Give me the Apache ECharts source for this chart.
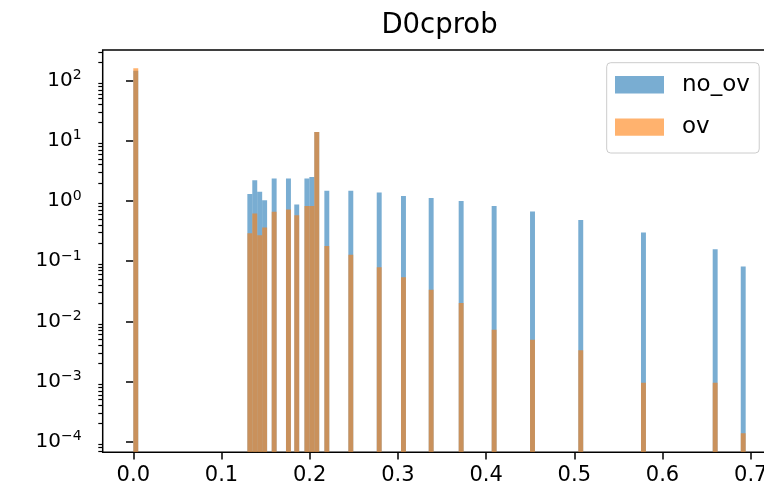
<!DOCTYPE html>
<html>
<head>
<meta charset="utf-8">
<script src="https://cdn.jsdelivr.net/npm/echarts@6/dist/echarts.min.js"></script>
<style>
  html, body { margin: 0; padding: 0; background: #ffffff; }
  #chart { width: 764px; height: 492px; }
</style>
</head>
<body>
<div id="chart"></div>
<script>
// ---- data (histogram bins, density, log scale) ----
const binStart = [0.0, 0.1293, 0.1349, 0.1405, 0.1461, 0.1569, 0.1731, 0.1825, 0.1940, 0.1996, 0.2052,
                  0.2166, 0.2438, 0.2760, 0.3035, 0.3349, 0.3689, 0.4063, 0.4498, 0.5045, 0.5756, 0.6569, 0.6887];
const noOv = [145, 1.30, 2.2, 1.42, 1.03, 2.35, 2.35, 0.875, 2.35, 2.5, 14,
              1.47, 1.47, 1.38, 1.21, 1.12, 1.0, 0.82, 0.67, 0.48, 0.30, 0.157, 0.081];
const ov   = [160, 0.29, 0.62, 0.27, 0.36, 0.66, 0.72, 0.58, 0.82, 0.82, 14,
              0.179, 0.127, 0.079, 0.054, 0.0334, 0.0201, 0.00726, 0.00495, 0.0033, 0.00095, 0.00095, 0.000138];
const BIN_W = 0.0056;
const seriesNames = ['no_ov', 'ov'];
const xTicks = [0.0, 0.1, 0.2, 0.3, 0.4, 0.5, 0.6, 0.7];
const yMajorTicks = [1e-4, 1e-3, 1e-2, 1e-1, 1e0, 1e1, 1e2];
const X_MIN = -0.0347, X_MAX = 0.729;
const Y_MIN = Math.pow(10, -4.176), Y_MAX = Math.pow(10, 2.507);

// minor ticks at 2..9 x 10^n (axis decoration)
const yMinorTicks = [];
for (let e = -5; e <= 2; e++) {
  for (let m = 2; m <= 9; m++) {
    const v = m * Math.pow(10, e);
    if (v > Y_MIN && v < Y_MAX) yMinorTicks.push(v);
  }
}

const BLUE = 'rgba(31,119,180,0.6)';
const ORANGE = 'rgba(255,127,14,0.6)';
const FONT = 'DejaVu Sans';

function histSeries(name, values, color) {
  return {
    type: 'custom',
    name: name,
    xAxisIndex: 0,
    yAxisIndex: 0,
    itemStyle: { color: color },
    silent: true,
    clip: true,
    data: binStart.map((x, i) => [x, values[i]]),
    renderItem: function (params, api) {
      const x0 = api.value(0), v = api.value(1);
      const pTop = api.coord([x0, v]);
      const pRight = api.coord([x0 + BIN_W, v]);
      const bottom = params.coordSys.y + params.coordSys.height;
      return {
        type: 'rect',
        shape: { x: pTop[0], y: pTop[1], width: pRight[0] - pTop[0], height: bottom - pTop[1] },
        style: { fill: color }
      };
    }
  };
}

function supLabel(v) {
  const e = Math.round(Math.log10(v));
  const s = e < 0 ? '\u2212' + (-e) : String(e);
  return '{b|10}{s|' + s + '}';
}

const chart = echarts.init(document.getElementById('chart'), null, { renderer: 'canvas' });
chart.setOption({
  animation: false,
  backgroundColor: '#ffffff',
  title: {
    text: 'D0cprob',
    left: 439.5,
    top: 11.5,
    padding: 0,
    textAlign: 'center',
    textStyle: { fontFamily: FONT, fontSize: 27.5, fontWeight: 'normal', color: '#000', lineHeight: 28 }
  },
  legend: {
    orient: 'vertical',
    left: 606.7,
    top: 62.7,
    padding: [10.6, 9.4, 14.4, 8.3],
    backgroundColor: 'rgba(255,255,255,0.8)',
    borderColor: '#cccccc',
    borderWidth: 1,
    borderRadius: 4,
    itemWidth: 49,
    itemHeight: 17.4,
    itemGap: 19.3,
    selectedMode: false,
    data: [
      { name: 'no_ov', icon: 'rect', itemStyle: { color: BLUE } },
      { name: 'ov', icon: 'rect', itemStyle: { color: ORANGE } }
    ],
    textStyle: { fontFamily: FONT, fontSize: 23, color: '#000', lineHeight: 17, padding: [0, 0, 0, 13] }
  },
  grid: {
    left: 102.7,
    top: 50,
    width: 673.6,
    height: 402.3,
    outerBoundsMode: 'none',
    show: true,
    borderColor: '#000',
    borderWidth: 1.5,
    backgroundColor: 'transparent',
    containLabel: false
  },
  xAxis: {
    type: 'value',
    min: X_MIN,
    max: X_MAX,
    splitLine: { show: false },
    axisLine: { show: false },
    axisTick: { show: true, customValues: xTicks, length: 7.3, lineStyle: { color: '#000', width: 1.5 } },
    axisLabel: {
      customValues: xTicks,
      formatter: v => v.toFixed(1),
      fontFamily: FONT, fontSize: 21, color: '#000', margin: 13
    }
  },
  yAxis: [
    {
      type: 'log',
      logBase: 10,
      min: Y_MIN,
      max: Y_MAX,
      splitLine: { show: false },
      axisLine: { show: false },
      axisTick: { show: true, customValues: yMajorTicks, length: 7.3, lineStyle: { color: '#000', width: 1.5 } },
      axisLabel: {
        customValues: yMajorTicks,
        formatter: supLabel,
        margin: 21,
        rich: {
          b: { fontFamily: FONT, fontSize: 20, color: '#000', lineHeight: 24 },
          s: { fontFamily: FONT, fontSize: 14, color: '#000', lineHeight: 14, verticalAlign: 'top' }
        }
      }
    },
    {
      type: 'log',
      logBase: 10,
      min: Y_MIN,
      max: Y_MAX,
      position: 'left',
      splitLine: { show: false },
      axisLine: { show: false },
      axisTick: { show: true, customValues: yMinorTicks, length: 4.4, lineStyle: { color: '#000', width: 1.2 } },
      axisLabel: { show: false }
    }
  ],
  series: [
    histSeries(seriesNames[0], noOv, BLUE),
    histSeries(seriesNames[1], ov, ORANGE)
  ]
});
</script>
</body>
</html>
